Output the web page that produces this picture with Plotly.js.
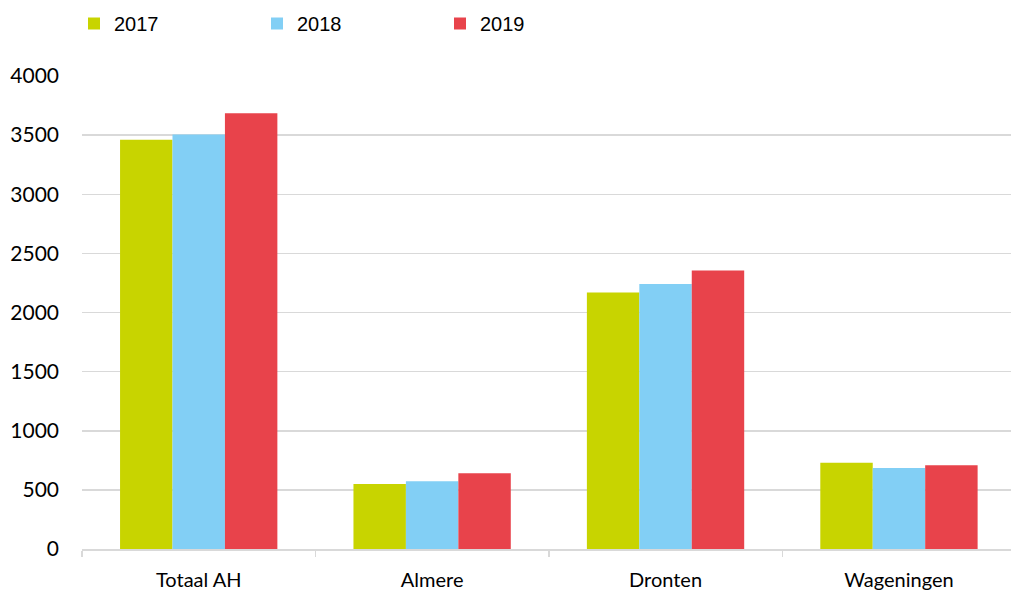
<!DOCTYPE html>
<html>
<head>
<meta charset="utf-8">
<script src="https://cdn.plot.ly/plotly-3.0.1.min.js"></script>
<style>html,body{margin:0;padding:0;background:#fff;}#chart{width:1011px;height:593px;}</style>
</head>
<body>
<div id="chart"></div>
<script>
const categories = ["Totaal AH", "Almere", "Dronten", "Wageningen"];
const values2017 = [3460, 550, 2170, 730];
const values2018 = [3505, 572, 2240, 685];
const values2019 = [3685, 640, 2355, 708];
const seriesNames = ["2017", "2018", "2019"];
const colors = ["#C8D400", "#82CFF5", "#E8434B"];
const yTicks = [0, 500, 1000, 1500, 2000, 2500, 3000, 3500, 4000];

const allValues = [values2017, values2018, values2019];
const traces = allValues.map((vals, i) => ({
  type: "bar",
  name: seriesNames[i],
  x: categories,
  y: vals,
  marker: {color: colors[i], line: {width: 0}},
  hoverinfo: "x+y"
}));

const layout = {
  width: 1011,
  height: 593,
  margin: {l: 82, r: 0, t: 76, b: 44},
  paper_bgcolor: "#fff",
  plot_bgcolor: "#fff",
  barmode: "group",
  bargap: 0.326,
  bargroupgap: 0,
  showlegend: true,
  legend: {
    orientation: "h",
    x: (74 - 82) / 929,
    xanchor: "left",
    y: 1 + (76 - 4) / 473,
    yanchor: "top",
    entrywidth: 138,
    entrywidthmode: "pixels",
    font: {family: "Liberation Sans, Arial, sans-serif", size: 20, color: "#000"},
    traceorder: "normal"
  },
  xaxis: {
    type: "category",
    range: [-0.5, 3.48],
    showgrid: false,
    showline: true,
    linecolor: "#D9D9D9",
    linewidth: 1.5,
    ticks: "outside",
    tickson: "boundaries",
    ticklen: 6,
    tickcolor: "#D9D9D9",
    tickwidth: 1.5,
    tickfont: {family: "Lato, sans-serif", size: 20, color: "#000"},
    ticklabelstandoff: 12,
    fixedrange: true
  },
  yaxis: {
    range: [0, 4000],
    tickvals: yTicks,
    ticktext: yTicks.map(String),
    showgrid: true,
    gridcolor: "#D9D9D9",
    gridwidth: 1.5,
    zeroline: false,
    showline: false,
    ticks: "",
    ticklabelstandoff: 22,
    tickfont: {family: "Lato, sans-serif", size: 21, color: "#000"},
    fixedrange: true
  }
};

Plotly.newPlot("chart", traces, layout, {displayModeBar: false, staticPlot: true});
</script>
</body>
</html>
